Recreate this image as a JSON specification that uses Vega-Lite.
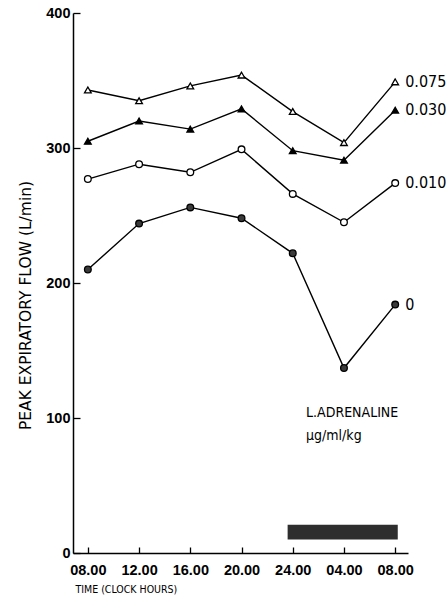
{
  "$schema": "https://vega.github.io/schema/vega-lite/v6.json",
  "width": 335,
  "height": 540,
  "autosize": {"type": "none"},
  "padding": {"left": 73, "top": 13, "right": 39, "bottom": 45},
  "background": "white",
  "config": {"view": {"stroke": null}},
  "data": {"values": [
    {"t": 0, "dose": "0.075", "flow": 343}, {"t": 1, "dose": "0.075", "flow": 335}, {"t": 2, "dose": "0.075", "flow": 346}, {"t": 3, "dose": "0.075", "flow": 354}, {"t": 4, "dose": "0.075", "flow": 327}, {"t": 5, "dose": "0.075", "flow": 304}, {"t": 6, "dose": "0.075", "flow": 349},
    {"t": 0, "dose": "0.030", "flow": 305}, {"t": 1, "dose": "0.030", "flow": 320}, {"t": 2, "dose": "0.030", "flow": 314}, {"t": 3, "dose": "0.030", "flow": 329}, {"t": 4, "dose": "0.030", "flow": 298}, {"t": 5, "dose": "0.030", "flow": 291}, {"t": 6, "dose": "0.030", "flow": 328},
    {"t": 0, "dose": "0.010", "flow": 277}, {"t": 1, "dose": "0.010", "flow": 288}, {"t": 2, "dose": "0.010", "flow": 282}, {"t": 3, "dose": "0.010", "flow": 299}, {"t": 4, "dose": "0.010", "flow": 266}, {"t": 5, "dose": "0.010", "flow": 245}, {"t": 6, "dose": "0.010", "flow": 274},
    {"t": 0, "dose": "0", "flow": 210}, {"t": 1, "dose": "0", "flow": 244}, {"t": 2, "dose": "0", "flow": 256}, {"t": 3, "dose": "0", "flow": 248}, {"t": 4, "dose": "0", "flow": 222}, {"t": 5, "dose": "0", "flow": 137}, {"t": 6, "dose": "0", "flow": 184}
  ]},
  "layer": [
    {
      "mark": {"type": "line", "color": "black", "strokeWidth": 1.4},
      "encoding": {
        "x": {"field": "t", "type": "quantitative",
          "scale": {"domain": [-0.29, 6.25], "nice": false, "zero": false},
          "axis": {"values": [0, 1, 2, 3, 4, 5, 6], "grid": false,
            "labelExpr": "['08.00','12.00','16.00','20.00','24.00','04.00','08.00'][datum.value]",
            "tickSize": -6, "tickColor": "black", "tickWidth": 1.3, "domainColor": "black", "domainWidth": 1.5,
            "labelFont": "Liberation Sans", "labelFontWeight": "bold", "labelFontSize": 14.5, "labelColor": "black", "labelPadding": 16,
            "title": "TIME (CLOCK HOURS)", "titleFont": "DejaVu Sans Condensed", "titleFontWeight": "normal", "titleFontSize": 10.5, "titleColor": "black",
            "titleAnchor": "start", "titleAlign": "left", "titleX": 2, "titleY": 31}},
        "y": {"field": "flow", "type": "quantitative",
          "scale": {"domain": [0, 400], "nice": false},
          "axis": {"values": [0, 100, 200, 300, 400], "grid": false,
            "tickSize": -7, "tickColor": "black", "tickWidth": 1.3, "domainColor": "black", "domainWidth": 1.5,
            "labelFont": "Liberation Sans", "labelFontWeight": "bold", "labelFontSize": 14.5, "labelColor": "black", "labelPadding": 10,
            "title": "PEAK EXPIRATORY FLOW (L/min)", "titleFont": "DejaVu Sans", "titleFontWeight": "normal", "titleFontSize": 15.5, "titleColor": "black",
            "titleX": -48, "titleY": 292, "titleAngle": -90, "titleBaseline": "middle", "titleAlign": "center"}},
        "detail": {"field": "dose"}
      }
    },
    {
      "mark": {"type": "point", "filled": true, "stroke": "black", "strokeWidth": 1.3, "opacity": 1},
      "encoding": {
        "x": {"field": "t", "type": "quantitative"},
        "y": {"field": "flow", "type": "quantitative"},
        "shape": {"field": "dose", "type": "nominal", "legend": null,
          "scale": {"domain": ["0.075", "0.030", "0.010", "0"], "range": ["triangle-up", "triangle-up", "circle", "circle"]}},
        "fill": {"field": "dose", "type": "nominal", "legend": null,
          "scale": {"domain": ["0.075", "0.030", "0.010", "0"], "range": ["white", "black", "white", "#3a3a3a"]}},
        "size": {"field": "dose", "type": "nominal", "legend": null,
          "scale": {"domain": ["0.075", "0.030", "0.010", "0"], "range": [45, 45, 38, 38]}}
      }
    },
    {
      "transform": [{"filter": "datum.t == 6"}],
      "mark": {"type": "text", "align": "left", "baseline": "middle", "dx": 10, "font": "DejaVu Sans Condensed", "fontSize": 16, "color": "black"},
      "encoding": {
        "x": {"field": "t", "type": "quantitative"},
        "y": {"field": "flow", "type": "quantitative"},
        "text": {"field": "dose"}
      }
    },
    {
      "data": {"values": [{"band": "night"}]},
      "mark": {"type": "rect", "color": "#2e2e2e"},
      "encoding": {
        "x": {"datum": 3.9}, "x2": {"datum": 6.05},
        "y": {"datum": 10}, "y2": {"datum": 21}
      }
    },
    {
      "data": {"values": [{"note": "legend"}]},
      "mark": {"type": "text", "align": "left", "baseline": "middle", "font": "DejaVu Sans Condensed", "fontSize": 14, "color": "black", "lineHeight": 23,
        "text": ["L.ADRENALINE", "μg/ml/kg"]},
      "encoding": {
        "x": {"datum": 4.26}, "y": {"datum": 104}
      }
    }
  ]
}
